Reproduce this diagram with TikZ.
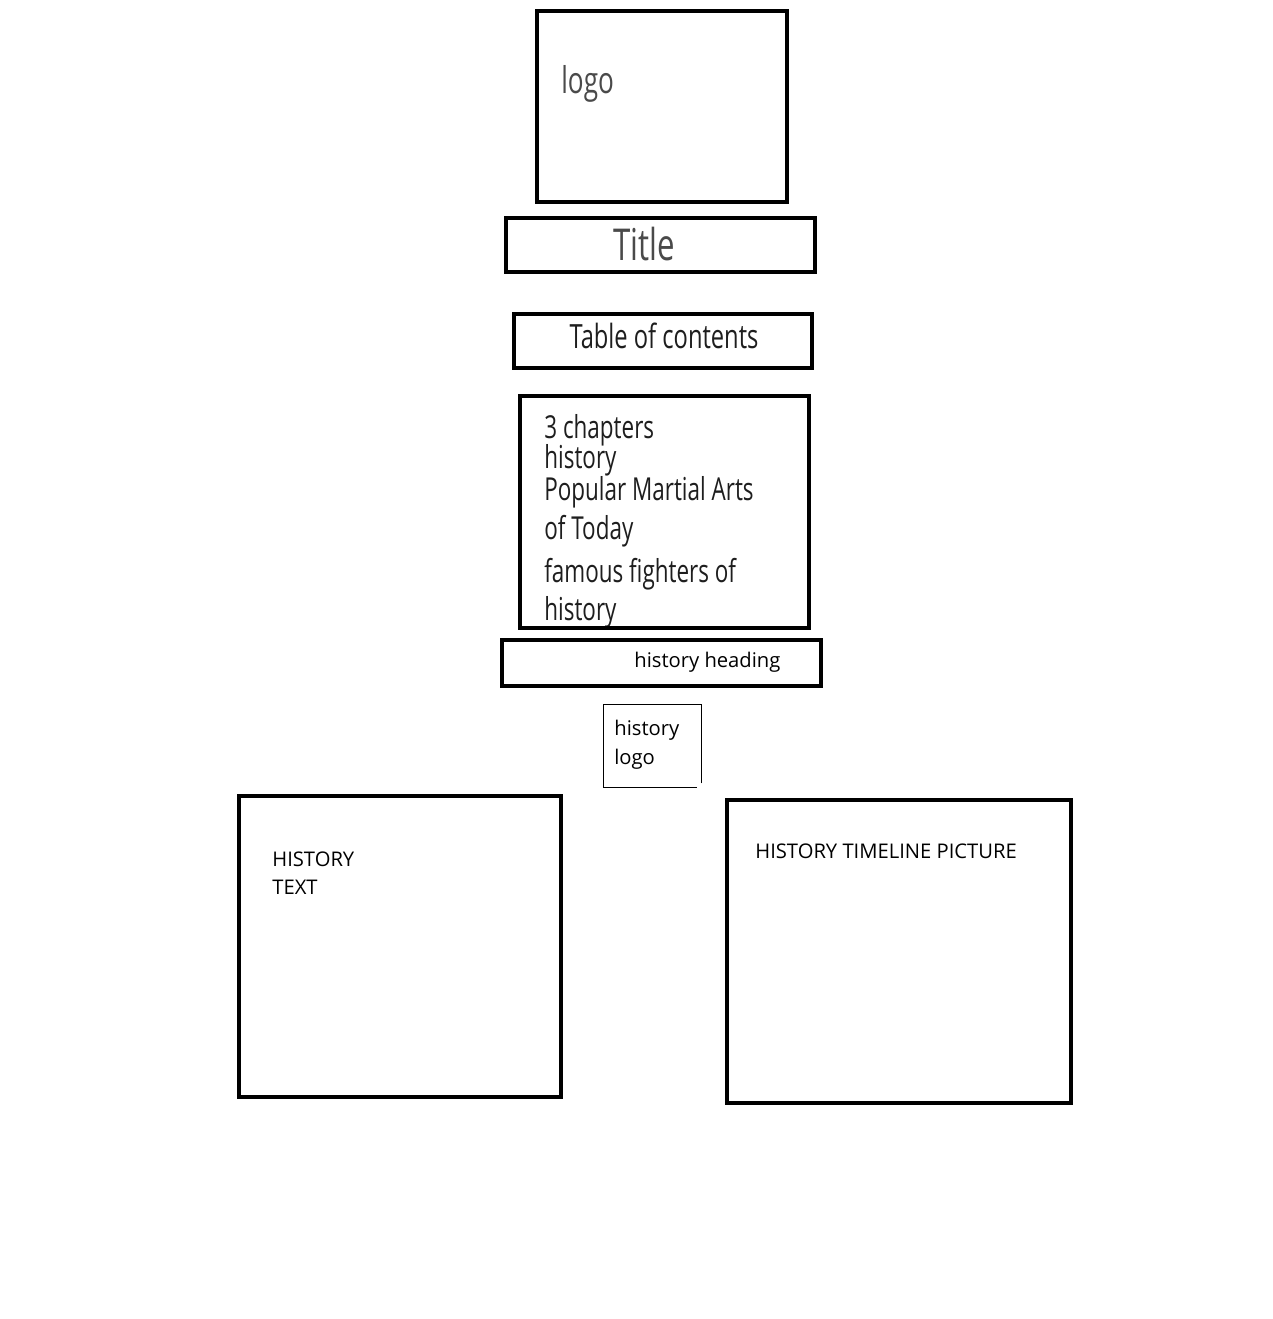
\documentclass[tikz,border=0pt]{standalone}
\usepackage{fontspec}
\setmainfont{Open Sans}
\newfontfamily\narrowfont[FakeStretch=0.71]{Open Sans}
\usetikzlibrary{calc}
\definecolor{inkgrey}{HTML}{4A4A4A}
\definecolor{inkdark}{HTML}{1E1E1E}
\tikzset{
  box/.style={draw=black, line width=2.2pt, inner sep=0pt},
  midbox/.style={draw=black, line width=1.8pt, inner sep=0pt},
  thinbox/.style={draw=black, line width=0.8pt},
  small/.style={font=\fontsize{11.5pt}{16.4pt}\selectfont, text=black, inner sep=0pt, align=left},
  listline/.style={font=\narrowfont\fontsize{18pt}{20pt}\selectfont, text=inkdark, inner sep=0pt, anchor=base west}
}

\begin{document}
\begin{tikzpicture}[x=0.02cm,y=-0.02cm]
\useasboundingbox (0,0) rectangle (1273,1319);
% page header
\node[box, minimum width=5cm, minimum height=3.82cm] (logobox) at (662,106.5) {};
\node[font=\narrowfont\fontsize{21pt}{24pt}\selectfont, text=inkgrey, inner sep=0pt, anchor=base west] (logo) at (561,93) {logo};
\node[box, minimum width=6.18cm, minimum height=1.08cm] (titlebox) at (660.5,245) {};
\node[font=\narrowfont\fontsize{25pt}{28pt}\selectfont, text=inkgrey, inner sep=0pt, anchor=base] (title) at (644,260) {Title};
\node[box, minimum width=5.96cm, minimum height=1.08cm] (tocbox) at (663,341) {};
\node[font=\narrowfont\fontsize{19pt}{22pt}\selectfont, text=inkdark, inner sep=0pt, anchor=base] (toc) at (664,348) {Table of contents};
% chapter list
\node[listline] (chap) at (544,438) {3 chapters};
\node[listline] (chapa) at (544,468) {history};
\node[listline] (chapb) at (544,500) {Popular Martial Arts};
\node[listline] (chapc) at (544,539) {of Today};
\node[listline] (chapd) at (544,582) {famous fighters of};
\node[listline] (chape) at (544,620) {history};
\node[box, minimum width=5.78cm, minimum height=4.64cm] (listbox) at (664.5,512) {};
% history section
\node[midbox, minimum width=6.38cm, minimum height=0.92cm] (headbox) at (661.5,663) {};
\node[small, anchor=base west] (head) at (634,667) {history heading};
\node[minimum width=1.94cm, minimum height=1.64cm, inner sep=0pt] (hlogobox) at (652.5,746) {};
\draw[thinbox] ($(hlogobox.south east)+(0,-4)$) -- (hlogobox.north east) -- (hlogobox.north west)
  -- (hlogobox.south west) -- ($(hlogobox.south east)+(-4,0)$);
\node[small, anchor=north west] (hlogo) at (614,720) {history\\logo};
\node[midbox, minimum width=6.44cm, minimum height=6.02cm] (textbox) at (400,946.5) {};
\node[small, anchor=north west] (htext) at (272,851) {HISTORY\\TEXT};
\node[midbox, minimum width=6.88cm, minimum height=6.06cm] (picbox) at (899,951.5) {};
\node[small, anchor=base west] (hpic) at (755,858) {HISTORY TIMELINE PICTURE};
\end{tikzpicture}
\end{document}
